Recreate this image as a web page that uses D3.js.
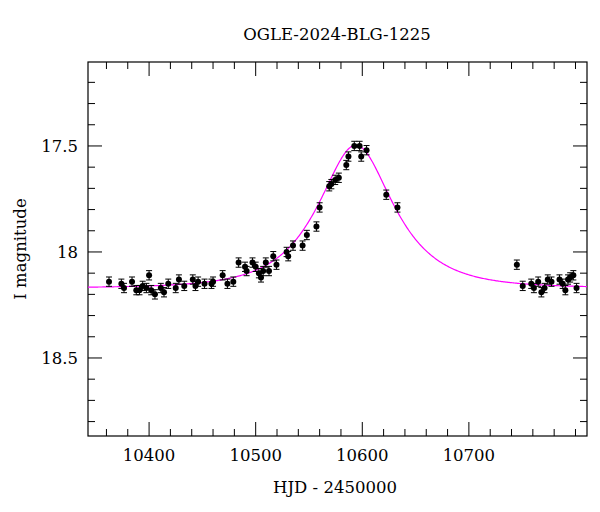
<!DOCTYPE html>
<html><head><meta charset="utf-8">
<script src="https://cdn.jsdelivr.net/npm/d3@7"></script>
<style>body{margin:0;background:#fff}svg text{font-family:"DejaVu Serif","Liberation Serif",serif}</style>
</head><body><svg></svg>
<script>
// données
const hjd = [10362.4,10374,10376.5,10384,10388,10391,10394,10397.5,10400,10402,10405.5,10411,10414,10418,10425,10428,10433,10441,10443.5,10446,10452,10458.5,10460,10469,10473.5,10479,10484,10490,10491.5,10497,10500,10503,10505,10507,10509.5,10512.5,10516.5,10519.5,10529,10530.5,10535,10544,10548,10557,10560,10569,10571,10574.6,10578,10585,10587,10592.5,10597.5,10599,10604,10622.5,10633,10745,10750.5,10758.5,10761,10765,10768,10771,10774,10777.5,10785,10788,10790.5,10793,10795,10798,10801];
const mag = [18.14,18.15,18.17,18.14,18.18,18.18,18.16,18.17,18.11,18.18,18.2,18.17,18.19,18.15,18.17,18.13,18.16,18.13,18.16,18.14,18.15,18.15,18.14,18.11,18.15,18.14,18.05,18.07,18.09,18.05,18.07,18.10,18.12,18.09,18.05,18.09,18.02,18.06,18.0,18.02,17.97,17.97,17.92,17.88,17.79,17.69,17.68,17.66,17.65,17.59,17.55,17.50,17.50,17.55,17.52,17.73,17.79,18.06,18.16,18.15,18.17,18.14,18.19,18.17,18.13,18.14,18.13,18.15,18.18,18.13,18.12,18.11,18.17];
const err = hjd.map(() => 0.022);
const xTicks = [10400,10500,10600,10700];
const yTicks = [17.5,18,18.5];

// paramètres du modèle (ajustement PSPL)
const t0 = 10594, tE = 55, u0 = 0.61, Ibase = 18.17;

const width = 600, height = 512;
const margin = {top:62, right:13, bottom:76, left:88};
const svg = d3.select('svg').attr('width',width).attr('height',height);

const x = d3.scaleLinear().domain([10342.7,10810.8]).range([margin.left,width-margin.right]);
const y = d3.scaleLinear().domain([17.104,18.868]).range([margin.top,height-margin.bottom]);

const g = svg.append('g');
g.append('rect').attr('x',margin.left).attr('y',margin.top)
  .attr('width',width-margin.left-margin.right).attr('height',height-margin.top-margin.bottom)
  .attr('fill','none').attr('stroke','#000').attr('stroke-width',1.2);

// graduations sur les 4 côtés, vers l'intérieur
const xMinor = d3.range(10360,10810,20), yMinor = d3.range(17.2,18.87,0.1);
const x0 = margin.left, x1 = width-margin.right, y0 = margin.top, y1 = height-margin.bottom;
xMinor.forEach(v => {
  const big = xTicks.some(t => Math.abs(t-v)<1e-6), L = big?14:7;
  g.append('line').attr('x1',x(v)).attr('x2',x(v)).attr('y1',y1).attr('y2',y1-L).attr('stroke','#000');
  g.append('line').attr('x1',x(v)).attr('x2',x(v)).attr('y1',y0).attr('y2',y0+L).attr('stroke','#000');
});
yMinor.forEach(v => {
  const big = yTicks.some(t => Math.abs(t-v)<1e-6), L = big?14:7;
  g.append('line').attr('y1',y(v)).attr('y2',y(v)).attr('x1',x0).attr('x2',x0+L).attr('stroke','#000');
  g.append('line').attr('y1',y(v)).attr('y2',y(v)).attr('x1',x1).attr('x2',x1-L).attr('stroke','#000');
});
xTicks.forEach(v => g.append('text').attr('x',x(v)).attr('y',y1+25).attr('text-anchor','middle').attr('font-size',16.5).text(v));
yTicks.forEach(v => g.append('text').attr('x',x0-10).attr('y',y(v)+6).attr('text-anchor','end').attr('font-size',16.5).text(v));

svg.append('text').attr('x',337).attr('y',40).attr('text-anchor','middle').attr('font-size',16.5).text('OGLE-2024-BLG-1225');
svg.append('text').attr('x',335).attr('y',493).attr('text-anchor','middle').attr('font-size',16.5).text('HJD - 2450000');
svg.append('text').attr('transform','translate(26,249) rotate(-90)').attr('text-anchor','middle').attr('font-size',16.5).text('I magnitude');

// courbe du modèle
const model = t => { const u = Math.sqrt(u0*u0 + ((t-t0)/tE)**2); const A = (u*u+2)/(u*Math.sqrt(u*u+4)); return Ibase - 2.5*Math.log10(A); };
const tt = d3.range(10342.7,10810.8,1);
g.append('path').datum(tt).attr('fill','none').attr('stroke','#f0f').attr('stroke-width',1.2)
  .attr('d', d3.line().x(t => x(t)).y(t => y(model(t))));

// points avec barres d'erreur
hjd.forEach((t,i) => {
  const px = x(t), ya = y(mag[i]-err[i]), yb = y(mag[i]+err[i]);
  g.append('line').attr('x1',px).attr('x2',px).attr('y1',ya).attr('y2',yb).attr('stroke','#000');
  g.append('line').attr('x1',px-3).attr('x2',px+3).attr('y1',ya).attr('y2',ya).attr('stroke','#000');
  g.append('line').attr('x1',px-3).attr('x2',px+3).attr('y1',yb).attr('y2',yb).attr('stroke','#000');
  g.append('circle').attr('cx',px).attr('cy',y(mag[i])).attr('r',3).attr('fill','#000');
});
</script></body></html>
